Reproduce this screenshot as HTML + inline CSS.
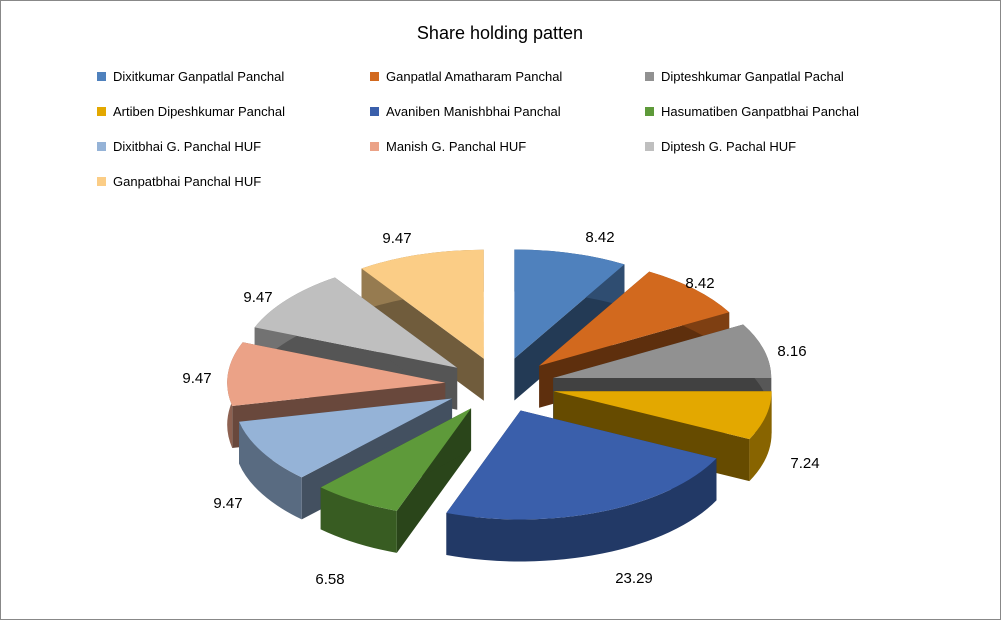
<!DOCTYPE html>
<html><head><meta charset="utf-8"><style>
body{margin:0;background:#fff}
svg{display:block;font-family:"Liberation Sans",Calibri,sans-serif}
</style></head><body>
<svg id="s" width="1001" height="620" viewBox="0 0 1001 620" xmlns="http://www.w3.org/2000/svg">
<rect x="0.5" y="0.5" width="1000" height="619" fill="#fff" stroke="#888"/>
<text x="500" y="39" font-size="18" text-anchor="middle" fill="#000">Share holding patten</text>
<g font-size="13" fill="#000">
<rect x="97" y="72" width="9" height="9" fill="#4F81BD"/><text x="113" y="81">Dixitkumar  Ganpatlal Panchal</text>
<rect x="370" y="72" width="9" height="9" fill="#D2691E"/><text x="386" y="81">Ganpatlal Amatharam Panchal</text>
<rect x="645" y="72" width="9" height="9" fill="#919191"/><text x="661" y="81">Dipteshkumar Ganpatlal Pachal</text>
<rect x="97" y="107" width="9" height="9" fill="#E3A800"/><text x="113" y="116">Artiben Dipeshkumar  Panchal</text>
<rect x="370" y="107" width="9" height="9" fill="#3A5FAB"/><text x="386" y="116">Avaniben Manishbhai  Panchal</text>
<rect x="645" y="107" width="9" height="9" fill="#5E9A3A"/><text x="661" y="116">Hasumatiben Ganpatbhai   Panchal</text>
<rect x="97" y="142" width="9" height="9" fill="#95B3D7"/><text x="113" y="151">Dixitbhai G. Panchal  HUF</text>
<rect x="370" y="142" width="9" height="9" fill="#EBA287"/><text x="386" y="151">Manish G. Panchal  HUF</text>
<rect x="645" y="142" width="9" height="9" fill="#BFBFBF"/><text x="661" y="151">Diptesh G. Pachal HUF</text>
<rect x="97" y="177" width="9" height="9" fill="#FBCD86"/><text x="113" y="186">Ganpatbhai Panchal HUF</text>
</g>
<g id="pie"></g>
<g font-size="15" fill="#000" text-anchor="middle">
<text x="600" y="242">8.42</text>
<text x="700" y="288">8.42</text>
<text x="792" y="356">8.16</text>
<text x="805" y="468">7.24</text>
<text x="634" y="583">23.29</text>
<text x="330" y="584">6.58</text>
<text x="228" y="508">9.47</text>
<text x="197" y="383">9.47</text>
<text x="258" y="302">9.47</text>
<text x="397" y="243">9.47</text>
</g>
</svg>
<script>
const vals=[8.42,8.42,8.16,7.24,23.29,6.58,9.47,9.47,9.47,9.47];
const cols=["#4F81BD","#D2691E","#919191","#E3A800","#3A5FAB","#5E9A3A","#95B3D7","#EBA287","#BFBFBF","#FBCD86"];
function dark(h,f){let n=parseInt(h.slice(1),16);let r=(n>>16)*f,g=((n>>8)&255)*f,b=(n&255)*f;return `rgb(${r|0},${g|0},${b|0})`;}
const cx=500,cy=385,rx=218,ry=109,E=55,D=42;
let acc=0,sl=[];
vals.forEach((v,i)=>{let a0=acc/100*2*Math.PI;acc+=v;let a1=acc/100*2*Math.PI;let m=(a0+a1)/2;
sl.push({i,a0,a1,m,ox:cx+E*Math.sin(m),oy:cy-E*Math.cos(m)*ry/rx});});
const P=(s,a,d=0)=>[s.ox+rx*Math.sin(a),s.oy-ry*Math.cos(a)+d];
let out="";
sl.slice().sort((a,b)=>(-Math.cos(a.m))-(-Math.cos(b.m))).forEach(s=>{
 const c=cols[s.i];const large=(s.a1-s.a0)>Math.PI?1:0;
 const [x0,y0]=P(s,s.a0),[x1,y1]=P(s,s.a1);
 [s.a0,s.a1].forEach(a=>{const [x,y]=P(s,a);
  out+=`<polygon points="${s.ox},${s.oy} ${x},${y} ${x},${y+D} ${s.ox},${s.oy+D}" fill="${dark(c,0.45)}"/>`;});
 out+=`<path d="M${x0},${y0} A${rx},${ry} 0 ${large} 1 ${x1},${y1} L${x1},${y1+D} A${rx},${ry} 0 ${large} 0 ${x0},${y0+D} Z" fill="${dark(c,0.6)}"/>`;
 out+=`<path d="M${s.ox},${s.oy} L${x0},${y0} A${rx},${ry} 0 ${large} 1 ${x1},${y1} Z" fill="${c}"/>`;
});
document.getElementById("pie").innerHTML=out;
</script>
</body></html>
